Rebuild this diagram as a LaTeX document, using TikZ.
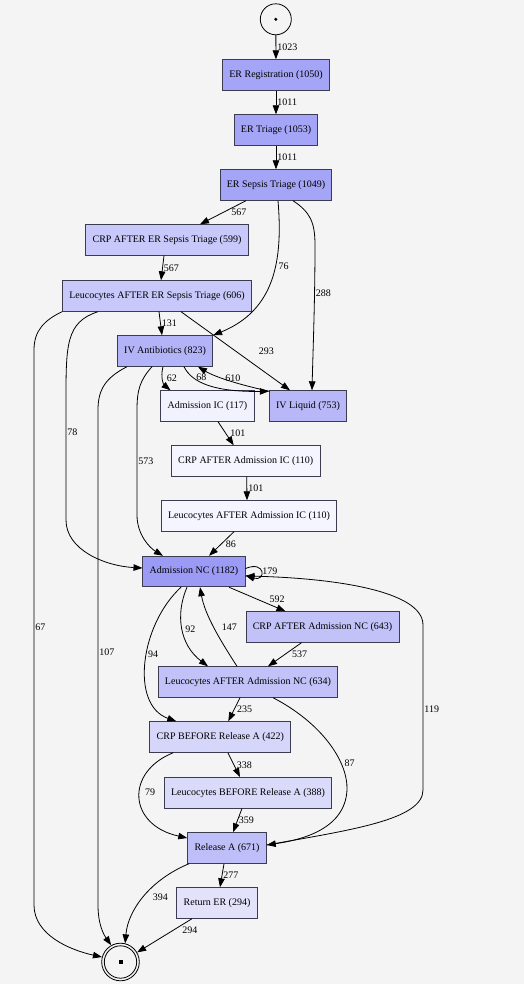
\documentclass[tikz,border=0pt]{standalone}
\usepackage{fontspec}
\setmainfont{Liberation Serif}
\usetikzlibrary{arrows.meta}
\definecolor{bg}{HTML}{F4F4F4}
\definecolor{bd}{HTML}{3C3C50}
\definecolor{f1182}{HTML}{9B9BF5}
\definecolor{f1050}{HTML}{A5A5F7}
\definecolor{f823}{HTML}{B3B3F8}
\definecolor{f753}{HTML}{B8B8F8}
\definecolor{f671}{HTML}{BEBEF8}
\definecolor{f640}{HTML}{C2C2F9}
\definecolor{f600}{HTML}{C8C8FA}
\definecolor{f422}{HTML}{D6D6FA}
\definecolor{f388}{HTML}{DADAFA}
\definecolor{f294}{HTML}{E2E2FB}
\definecolor{f117}{HTML}{F2F2FE}
\definecolor{f110}{HTML}{F5F5FF}
\begin{document}
\begin{tikzpicture}[x=1pt, y=-1pt, line width=0.8pt,
  act/.style={draw=bd, fill=#1, rectangle, line width=0.9pt, minimum height=30.5pt, inner xsep=6.8pt, inner ysep=2pt},
  lbl/.style={inner sep=1pt},
  flow/.style={-{Triangle[length=9pt,width=6.5pt]}}]
\useasboundingbox (0,0) rectangle (524,1006);
\fill[bg] (0,0) rectangle (524,984);
% start and end
\node[draw, circle, minimum size=31pt, inner sep=0pt,
  path picture={\fill (path picture bounding box.center) circle (1.7pt);}] (0) at (275.8,19.3) {};
\node[draw, circle, minimum size=37.6pt, inner sep=0pt,
  path picture={\draw (path picture bounding box.center) circle (16.2pt);
  \fill (path picture bounding box.center) +(-2pt,-2pt) rectangle +(2pt,2pt);}] (18) at (120.5,962) {};
% activities
\node[act=f1050] (1) at (276,75) {ER Registration (1050)};
\node[act=f1050] (2) at (276,130) {ER Triage (1053)};
\node[act=f1050] (3) at (276,185) {ER Sepsis Triage (1049)};
\node[act=f600] (4) at (167,240) {CRP AFTER ER Sepsis Triage (599)};
\node[act=f600] (5) at (157,296) {Leucocytes AFTER ER Sepsis Triage (606)};
\node[act=f823] (6) at (165,351) {IV Antibiotics (823)};
\node[act=f117] (7) at (207.5,406) {Admission IC (117)};
\node[act=f753] (8) at (308,406) {IV Liquid (753)};
\node[act=f110] (9) at (245.7,461) {CRP AFTER Admission IC (110)};
\node[act=f110] (10) at (249,516) {Leucocytes AFTER Admission IC (110)};
\node[act=f1182] (11) at (194,571.5) {Admission NC (1182)};
\node[act=f640] (12) at (322.5,627) {CRP AFTER Admission NC (643)};
\node[act=f640] (13) at (248,682) {Leucocytes AFTER Admission NC (634)};
\node[act=f422] (14) at (220.3,737) {CRP BEFORE Release A (422)};
\node[act=f388] (15) at (248,792.7) {Leucocytes BEFORE Release A (388)};
\node[act=f671] (16) at (227,848) {Release A (671)};
\node[act=f294] (17) at (217,903) {Return ER (294)};
% flows
\draw[flow] (0) -- node[lbl,right]{1023} (1);
\draw[flow] (1) -- node[lbl,right]{1011} (2);
\draw[flow] (2) -- node[lbl,right]{1011} (3);
\draw[flow] ([xshift=-30pt]3.south) -- node[lbl,right=7pt]{567} ([xshift=33pt]4.north);
\draw[flow] ([xshift=-3pt]4.south) -- node[lbl,right]{567} ([xshift=4pt]5.north);
\draw[flow] ([xshift=2pt]3.south) .. controls (283,260) and (275,310) .. (6.north east) node[lbl,right=2pt,pos=.4]{76};
\draw[flow] ([xshift=17pt]3.south) .. controls (310,212) and (315,222) .. (315,245) .. controls (315,300) and (313,350) .. ([xshift=4pt]8.north) node[lbl,right,pos=.3]{288};
\draw[flow] ([xshift=2pt]5.south) -- node[lbl,right]{131} ([xshift=-3pt]6.north);
\draw[flow] ([xshift=24pt]5.south) -- node[lbl,right=22pt]{293} ([xshift=-18pt]8.north);
\draw[flow] ([xshift=-59pt]5.south) .. controls (66,322) and (66,345) .. (66,400) -- (66,520) node[lbl,right,pos=.27]{78} .. controls (66,550) and (105,566) .. ([yshift=3.5pt]11.west);
\draw[flow] ([xshift=-95pt]5.south) .. controls (45,320) and (34,330) .. (34,350) -- (34,905) node[lbl,right,pos=.5]{67} .. controls (34,935) and (70,950) .. (18.165);
\draw[flow] ([xshift=-2pt]6.south) .. controls (160,378) and (164,385) .. ([xshift=-37pt]7.north) node[lbl,right=3pt,pos=.4]{62};
\draw[flow] ([xshift=19pt]6.south) .. controls (192,383) and (215,392) .. ([yshift=-1pt]8.north west) node[lbl,right=2pt,pos=.25]{68};
\draw[flow] ([xshift=1pt,yshift=-1pt]8.north west) .. controls (240,385) and (215,377) .. ([xshift=33pt]6.south) node[lbl,pos=.45,yshift=3pt]{610};
\draw[flow] ([xshift=-13pt]6.south) .. controls (140,380) and (137,390) .. (137,410) -- (137,515) node[lbl,right,pos=.49]{573} .. controls (137,535) and (150,548) .. ([xshift=-31pt]11.north);
\draw[flow] ([xshift=-38pt]6.south) .. controls (105,378) and (98,390) .. (98,410) -- (98,905) node[lbl,right,pos=.49]{107} .. controls (98,925) and (104,935) .. (18.119);
\draw[flow] ([xshift=10.5pt]7.south) -- node[lbl,right=3pt]{101} ([xshift=-12pt]9.north);
\draw[flow] ([xshift=1pt]9.south) -- node[lbl,right]{101} ([xshift=-2pt]10.north);
\draw[flow] ([xshift=-15pt]10.south) -- node[lbl,right=3pt]{86} ([xshift=15pt]11.north);
\draw[flow] ([yshift=3pt]11.east) .. controls (266,560) and (266,582) .. ([yshift=-4pt]11.east) node[lbl,right,pos=.5]{179};
\draw[flow] ([xshift=35pt]11.south) -- node[lbl,right=11pt]{592} ([xshift=-37pt]12.north);
\draw[flow] ([xshift=-7pt]11.south) .. controls (175,615) and (180,645) .. ([xshift=-40pt]13.north) node[lbl,right=1.5pt,pos=.5]{92};
\draw[flow] ([xshift=-11pt]13.north) .. controls (220,640) and (205,615) .. ([xshift=6pt]11.south) node[lbl,right=6.5pt,pos=.5]{147};
\draw[flow] ([xshift=-13pt]11.south) .. controls (140,625) and (130,705) .. ([xshift=-44pt]14.north) node[lbl,right,pos=.45]{94};
\draw[flow] ([xshift=-21pt]12.south) -- node[lbl,right=6pt]{537} ([xshift=20pt]13.north);
\draw[flow] ([xshift=-8pt]13.south) -- node[lbl,right=1.5pt]{235} ([xshift=8pt]14.north);
\draw[flow] ([xshift=25pt]13.south) .. controls (320,722) and (348,760) .. (347,790) node[lbl,right=2pt,pos=.72]{87} .. controls (345,830) and (300,840) .. ([yshift=3pt]16.east);
\draw[flow] ([yshift=3pt]16.east) .. controls (350,830) and (423,820) .. (423,790) -- (423,625) node[lbl,right,pos=.49]{119} .. controls (423,590) and (330,578) .. ([yshift=-4.5pt]11.east);
\draw[flow] ([xshift=7.5pt]14.south) -- node[lbl,right=1.5pt]{338} ([xshift=-8pt]15.north);
\draw[flow] ([xshift=-47pt]14.south) .. controls (125,772) and (128,825) .. ([yshift=10pt]16.west) node[lbl,right=4pt,pos=.45]{79};
\draw[flow] ([xshift=-6pt]15.south) -- node[lbl,right]{359} ([xshift=6pt]16.north);
\draw[flow] ([xshift=-3pt]16.south) -- node[lbl,right]{277} ([xshift=3pt]17.north);
\draw[flow] ([xshift=-38pt]16.south) .. controls (150,880) and (128,910) .. (18.76) node[lbl,right=8pt,pos=.5]{394};
\draw[flow] ([xshift=-25pt]17.south) -- node[lbl,anchor=north west,pos=.2]{294} (18.30);
\end{tikzpicture}
\end{document}
